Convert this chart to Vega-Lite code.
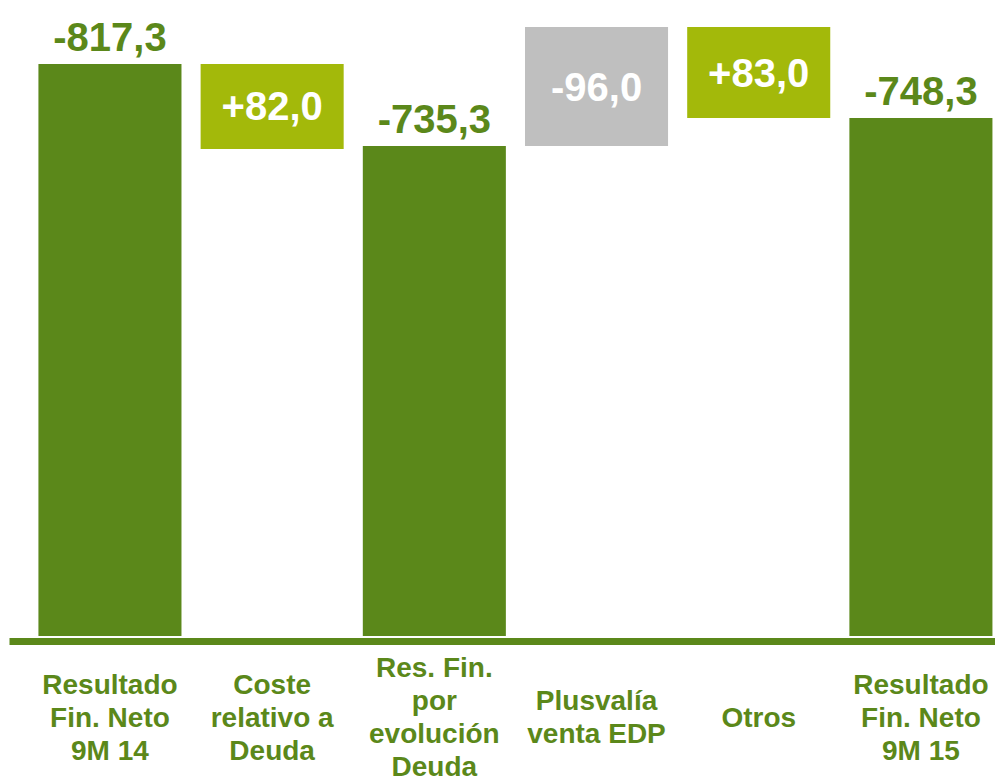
{
  "$schema": "https://vega.github.io/schema/vega-lite/v6.json",
  "width": 986,
  "height": 636,
  "autosize": {"type": "none"},
  "padding": {"left": 9, "top": 0, "right": 0, "bottom": 145},
  "background": "white",
  "config": {"view": {"stroke": null}, "font": "Liberation Sans"},
  "data": {
    "values": [
      {"cat": "Resultado|Fin. Neto|9M 14", "y0": 0, "y1": 817.3, "label": "-817,3", "kind": "total"},
      {"cat": "Coste|relativo a|Deuda", "y0": 695.8, "y1": 817.3, "label": "+82,0", "kind": "pos"},
      {"cat": "Res. Fin.|por|evolución|Deuda", "y0": 0, "y1": 700.1, "label": "-735,3", "kind": "total"},
      {"cat": "Plusvalía|venta EDP", "y0": 700.1, "y1": 870.1, "label": "-96,0", "kind": "neg"},
      {"cat": "Otros", "y0": 740.1, "y1": 870.1, "label": "+83,0", "kind": "pos"},
      {"cat": "Resultado|Fin. Neto|9M 15", "y0": 0, "y1": 740.1, "label": "-748,3", "kind": "total"}
    ]
  },
  "encoding": {
    "x": {
      "field": "cat",
      "type": "nominal",
      "sort": ["Resultado|Fin. Neto|9M 14", "Coste|relativo a|Deuda", "Res. Fin.|por|evolución|Deuda", "Plusvalía|venta EDP", "Otros", "Resultado|Fin. Neto|9M 15"],
      "scale": {"paddingInner": 0.118, "paddingOuter": 0.0986, "align": 0.92},
      "axis": {
        "title": null,
        "labelAngle": 0,
        "labelExpr": "split(datum.label, '|')",
        "labelFont": "Liberation Sans",
        "labelFontWeight": "bold",
        "labelFontSize": 28,
        "labelColor": "#5B881A",
        "labelLineHeight": 33,
        "labelBaseline": "middle",
        "labelPadding": {"expr": "77 - (length(split(datum.value, '|')) - 1) * 16.5"},
        "labelLimit": 0,
        "labelOverlap": false,
        "labelBound": false,
        "ticks": false,
        "tickSize": 0,
        "grid": false,
        "domainColor": "#5B881A",
        "domainWidth": 7,
        "offset": 5
      }
    }
  },
  "layer": [
    {
      "mark": {"type": "bar"},
      "encoding": {
        "y": {"field": "y0", "type": "quantitative", "scale": {"domain": [0, 908.7], "nice": false, "zero": true}, "axis": null},
        "y2": {"field": "y1"},
        "color": {
          "field": "kind",
          "type": "nominal",
          "scale": {"domain": ["total", "pos", "neg"], "range": ["#5B881A", "#A3B90A", "#BFBFBF"]},
          "legend": null
        }
      }
    },
    {
      "transform": [{"filter": "datum.kind == 'total'"}],
      "mark": {"type": "text", "font": "Liberation Sans", "fontWeight": "bold", "fontSize": 40, "color": "#5B881A", "baseline": "alphabetic", "dy": -13},
      "encoding": {
        "y": {"field": "y1", "type": "quantitative", "scale": {"domain": [0, 908.7], "nice": false, "zero": true}, "axis": null},
        "text": {"field": "label"}
      }
    },
    {
      "transform": [
        {"filter": "datum.kind != 'total'"},
        {"calculate": "(datum.y0 + datum.y1) / 2", "as": "mid"}
      ],
      "mark": {"type": "text", "font": "Liberation Sans", "fontWeight": "bold", "fontSize": 40, "color": "white", "baseline": "middle", "dy": 2},
      "encoding": {
        "y": {"field": "mid", "type": "quantitative", "scale": {"domain": [0, 908.7], "nice": false, "zero": true}, "axis": null},
        "text": {"field": "label"}
      }
    }
  ]
}
